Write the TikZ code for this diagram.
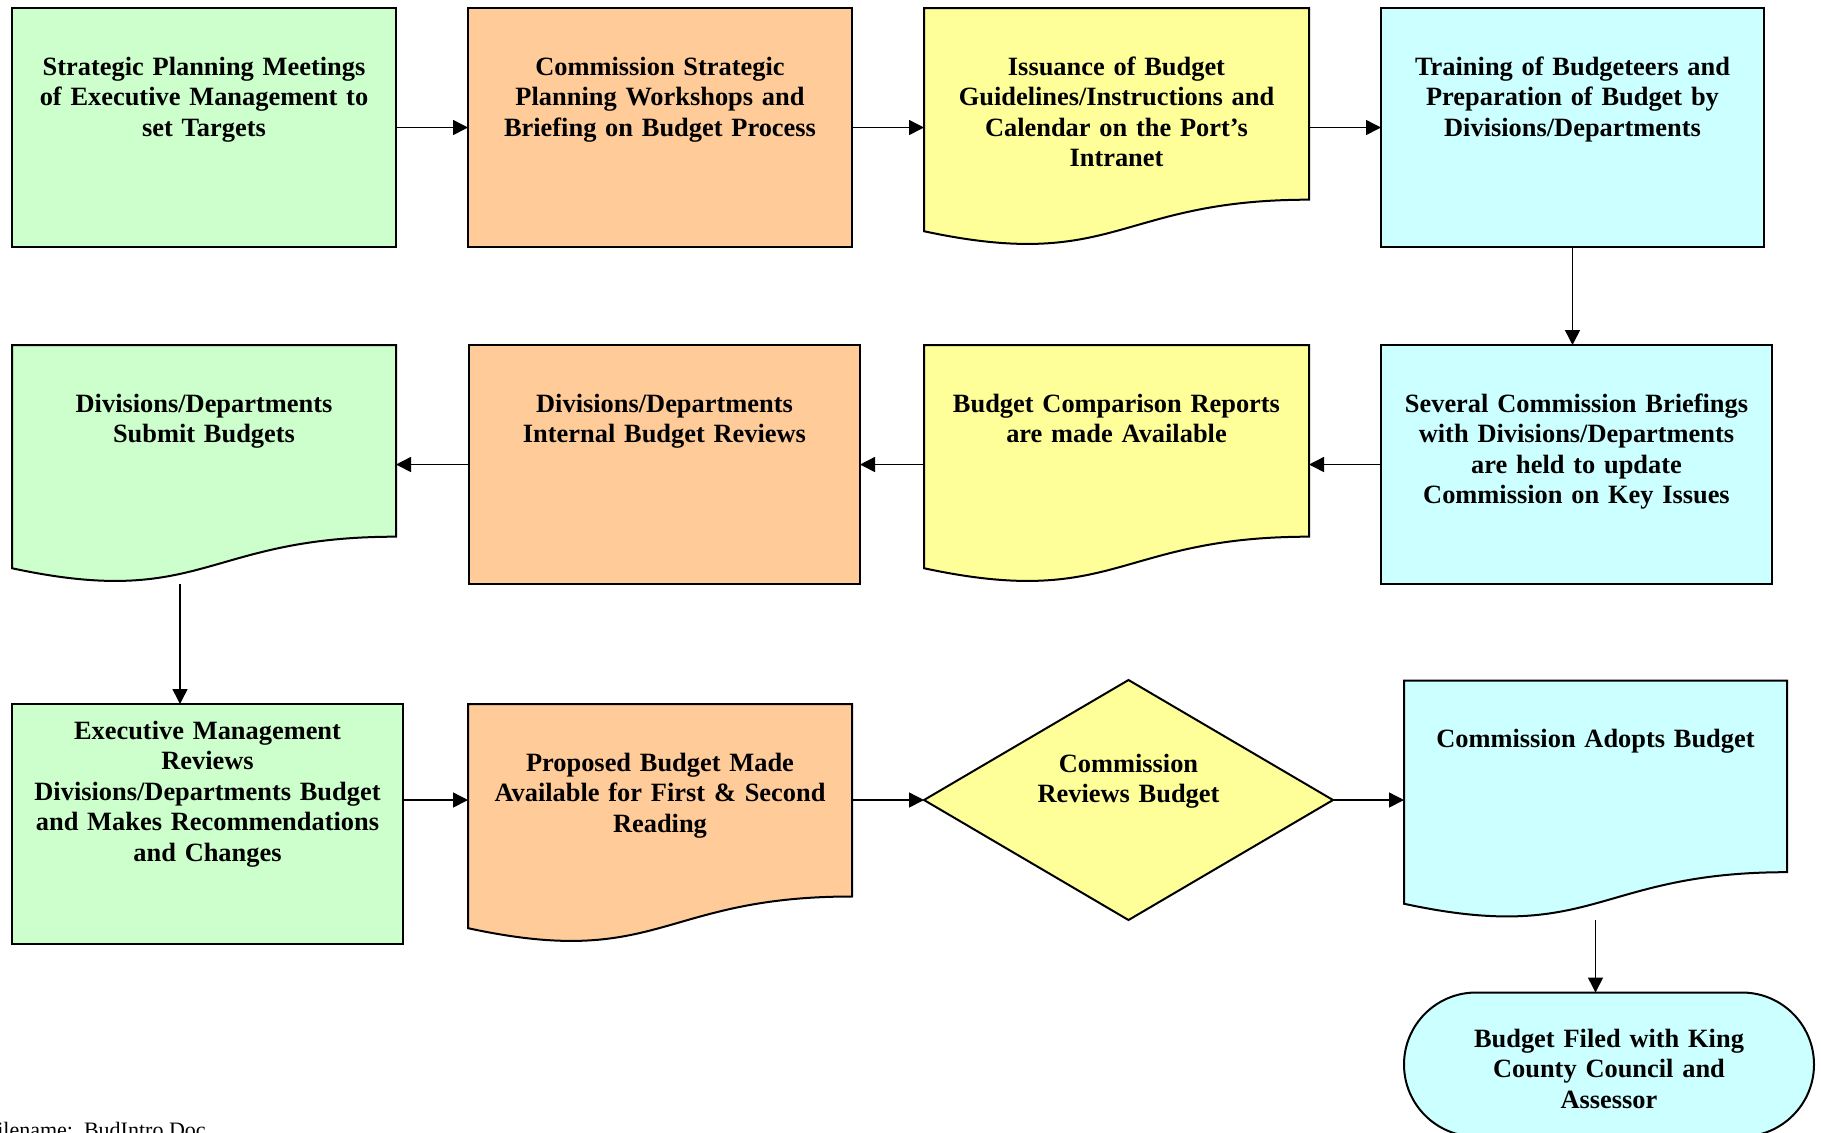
\documentclass[tikz,border=0pt]{standalone}
\usepackage{fontspec}
\setmainfont{Liberation Serif}
\usetikzlibrary{arrows.meta, positioning, calc, backgrounds, shapes.geometric}

\definecolor{greenfill}{HTML}{CCFFCC}
\definecolor{orangefill}{HTML}{FFCC99}
\definecolor{yellowfill}{HTML}{FFFF99}
\definecolor{cyanfill}{HTML}{CCFFFF}

\tikzset{
  flowbox/.style={inner sep=0pt, outer sep=0pt, align=center, text width=192pt,
    font=\fontsize{13.2}{15.3}\bfseries\selectfont,
    text height=33.5pt, text depth=86pt},
  procbox/.style={flowbox, draw, line width=1pt},
  docbox/.style={flowbox},
  decision/.style={diamond, draw, line width=1pt, fill=yellowfill, inner sep=0pt, outer sep=0pt,
    shape aspect=1.7, minimum width=204.5pt, minimum height=120pt,
    align=center, text width=100pt, text height=10pt, text depth=38pt,
    font=\fontsize{13.2}{15.3}\bfseries\selectfont},
  terminal/.style={rectangle, rounded corners=36pt, draw, line width=1pt, fill=cyanfill,
    minimum width=205pt, minimum height=72pt, inner sep=0pt, outer sep=0pt,
    align=center, text width=190pt, text height=13.6pt,
    font=\fontsize{13.2}{15.3}\bfseries\selectfont},
  arrow/.style={-{Triangle[length=7.5pt,width=7.5pt]}, line width=0.75pt}
}

\begin{document}
\begin{tikzpicture}
  \useasboundingbox (0,0) rectangle (910.5pt,-566pt);

  % First row
  \node (plan) [procbox, fill=greenfill, anchor=north west] at (6pt,-4pt)
    {Strategic Planning Meetings\\ of Executive Management to\\ set Targets};
  \node (workshop) [procbox, fill=orangefill, right=36pt of plan]
    {Commission Strategic\\ Planning Workshops and\\ Briefing on Budget Process};
  \node (issue) [docbox, right=36pt of workshop, text width=192.5pt]
    {Issuance of Budget\\ Guidelines/Instructions and\\ Calendar on the Port’s\\ Intranet};
  \node (train) [procbox, fill=cyanfill, right=36pt of issue, text width=191.5pt]
    {Training of Budgeteers and\\ Preparation of Budget by\\ Divisions/Departments};

  % Second row
  \node (submit) [docbox, below=49pt of plan]
    {Divisions/Departments\\ Submit Budgets};
  \node (internal) [procbox, fill=orangefill, right=36.5pt of submit, text width=195.5pt]
    {Divisions/Departments\\ Internal Budget Reviews};
  \node (compare) [docbox, right=32pt of internal, text width=192.5pt]
    {Budget Comparison Reports\\ are made Available};
  \node (brief) [procbox, fill=cyanfill, right=36pt of compare, text width=195.5pt]
    {Several Commission Briefings\\ with Divisions/Departments\\ are held to update\\ Commission on Key Issues};

  % Third row
  \node (exec) [procbox, fill=greenfill, below=60pt of submit, xshift=1.75pt,
    text width=195.5pt, text height=17.5pt, text depth=102.5pt]
    {Executive Management\\ Reviews\\ Divisions/Departments Budget\\ and Makes Recommendations\\ and Changes};
  \node (propose) [docbox, right=32.5pt of exec, text depth=86.5pt]
    {Proposed Budget Made\\ Available for First \& Second\\ Reading};
  \node (review) [decision, right=36pt of propose, yshift=12pt]
    {Commission\\ Reviews Budget};
  \node (adopt) [docbox, right=35.5pt of review, text width=191.5pt]
    {Commission Adopts Budget};
  \node (file) [terminal, below=36.5pt of adopt, xshift=6.75pt]
    {Budget Filed with King\\ County Council and\\ Assessor};

  \node (fname) [anchor=base west, font=\fontsize{11}{13}\selectfont] at (-11pt,-568.5pt)
    {Filename:\ \ BudIntro.Doc};

  % Document shapes
  \begin{scope}[on background layer]
    \foreach \n/\c in {issue/yellowfill, submit/greenfill, compare/yellowfill,
                       propose/orangefill, adopt/cyanfill}
      \draw[line width=1pt, fill=\c] (\n.north west) -- (\n.north east)
        -- ($(\n.north east)!0.802!(\n.south east)$)
        .. controls ($(\n.north)!0.802!(\n.south)$) and ($(\n.north)!1.107!(\n.south)$)
        .. ($(\n.north west)!0.934!(\n.south west)$) -- cycle;
  \end{scope}

  % Connections
  \draw[arrow] (plan) -- (workshop);
  \draw[arrow] (workshop) -- (issue);
  \draw[arrow] (issue) -- (train);
  \draw[arrow] (train) -- (train |- brief.north);
  \draw[arrow] (brief) -- (compare);
  \draw[arrow] (compare) -- (internal);
  \draw[arrow] (internal) -- (submit);
  \coordinate (drop) at ([xshift=84pt]submit.south west);
  \draw[arrow] (drop) -- (drop |- exec.north);
  \draw[arrow] (exec.east |- review) -- (propose.west |- review);
  \draw[arrow] (propose.east |- review) -- (review.west);
  \draw[arrow] (review) -- (adopt);
  \draw[arrow] (adopt) -- (adopt |- file.north);
\end{tikzpicture}
\end{document}
